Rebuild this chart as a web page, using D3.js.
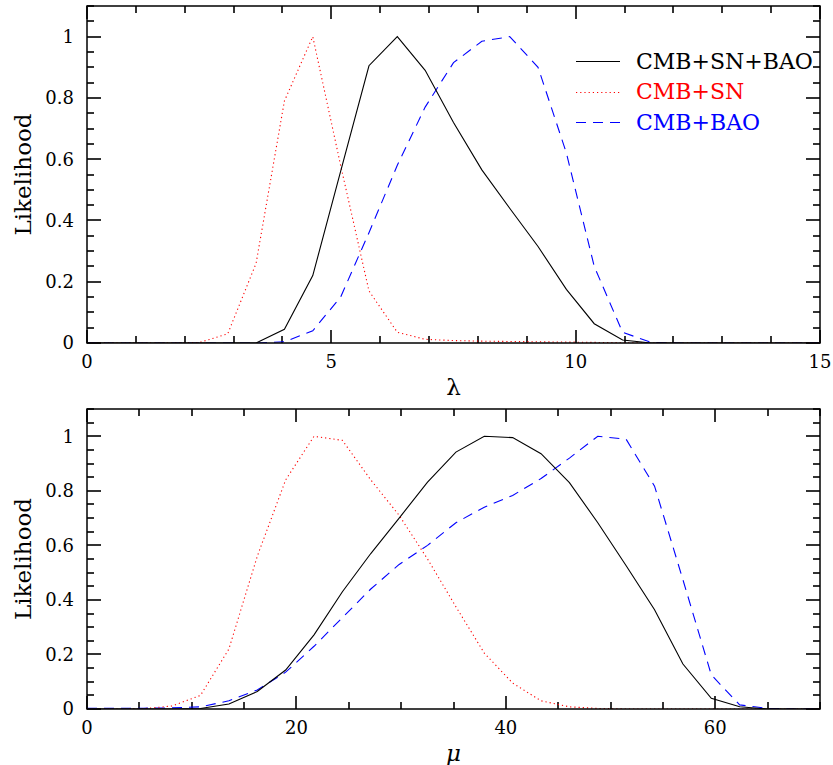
<!DOCTYPE html>
<html>
<head>
<meta charset="utf-8">
<script src="https://cdn.jsdelivr.net/npm/d3@7"></script>
<style>
body { margin: 0; background: #fff; }
svg { display: block; }
.lbl { font-family: "DejaVu Serif", serif; font-size: 18px; fill: #000; }
</style>
</head>
<body>
<script>
// likelihood curves
var seriesNames = ["CMB+SN+BAO", "CMB+SN", "CMB+BAO"];
var seriesColors = ["#000000", "#ff0000", "#0000ff"];
var seriesDash = [null, "1.2,3", "10,7"];

var lambdaX = [0, 0.58, 1.15, 1.73, 2.31, 2.88, 3.46, 4.04, 4.62, 5.19, 5.77, 6.35, 6.92, 7.5,
  8.08, 8.65, 9.23, 9.81, 10.38, 10.96, 11.54, 12.12, 12.69, 13.27, 13.85, 14.42, 15];
var lambdaJoint = [0, 0, 0, 0, 0, 0, 0, 0.045, 0.22, 0.56, 0.905, 1.0, 0.89, 0.72,
  0.565, 0.44, 0.315, 0.175, 0.063, 0.01, 0, 0, 0, 0, 0, 0, 0];
var lambdaSN = [0, 0, 0, 0, 0.002, 0.03, 0.26, 0.79, 1.0, 0.58, 0.17, 0.035, 0.012, 0.008,
  0.006, 0.005, 0.004, 0.003, 0.002, 0.001, 0, 0, 0, 0, 0, 0, 0];
var lambdaBAO = [0, 0, 0, 0, 0, 0, 0, 0.004, 0.04, 0.15, 0.36, 0.58, 0.77, 0.915,
  0.985, 1.0, 0.9, 0.62, 0.25, 0.035, 0.002, 0, 0, 0, 0, 0, 0];

var muX = [0, 2.71, 5.42, 8.13, 10.84, 13.55, 16.26, 18.97, 21.68, 24.39, 27.1, 29.81, 32.52,
  35.23, 37.94, 40.65, 43.36, 46.07, 48.78, 51.49, 54.2, 56.91, 59.62, 62.33, 65.04, 67.75, 70];
var muJoint = [0, 0, 0, 0, 0.002, 0.018, 0.064, 0.143, 0.272, 0.43, 0.57, 0.70, 0.832,
  0.942, 1.0, 0.995, 0.936, 0.83, 0.683, 0.525, 0.364, 0.165, 0.039, 0.008, 0, 0, 0];
var muSN = [0, 0, 0.001, 0.011, 0.05, 0.22, 0.56, 0.84, 1.0, 0.985, 0.84, 0.71, 0.55,
  0.375, 0.205, 0.095, 0.03, 0.008, 0.002, 0, 0, 0, 0, 0, 0, 0, 0];
var muBAO = [0.003, 0.003, 0.003, 0.004, 0.008, 0.03, 0.07, 0.135, 0.23, 0.335, 0.44, 0.53, 0.60,
  0.683, 0.74, 0.783, 0.845, 0.92, 1.0, 0.989, 0.817, 0.474, 0.125, 0.015, 0.002, 0, 0];

var yTicks = [0, 0.2, 0.4, 0.6, 0.8, 1];
var lambdaTicks = [0, 5, 10, 15];
var muTicks = [0, 20, 40, 60];

var svg = d3.select("body").append("svg")
  .attr("width", 833)
  .attr("height", 765);

function panel(id, y0, y1, xmax, xs, ys, ticks, minorStep, xlab, italic, legend) {
  var left = 87, right = 820;
  var x = d3.scaleLinear().domain([0, xmax]).range([left, right]);
  var y = d3.scaleLinear().domain([0, 1.1]).range([y1, y0]);

  svg.append("clipPath").attr("id", id)
    .append("rect")
    .attr("x", left).attr("y", y0)
    .attr("width", right - left).attr("height", y1 - y0);

  // tick marks on all four sides, pointing inwards (drawn as small filled rects)
  var minorX = d3.range(0, xmax + 0.001, minorStep);
  var minorY = d3.range(0, 23).map(function(i) { return i * 0.05; });
  var tg = svg.append("g").attr("fill", "#333");
  minorX.forEach(function(v) {
    var len = ticks.indexOf(v) >= 0 ? 13 : 7;
    var px = Math.round(x(v)) - 1;
    tg.append("rect").attr("x", px).attr("y", y1 - len).attr("width", 2).attr("height", len);
    tg.append("rect").attr("x", px).attr("y", y0).attr("width", 2).attr("height", len);
  });
  minorY.forEach(function(v) {
    var major = yTicks.some(function(t) { return Math.abs(t - v) < 1e-6; });
    var len = major ? 14 : 7;
    var py = Math.round(y(v)) - 1;
    tg.append("rect").attr("x", left).attr("y", py).attr("width", len).attr("height", 2);
    tg.append("rect").attr("x", right - len).attr("y", py).attr("width", len).attr("height", 2);
  });

  svg.selectAll(null).data(ticks).enter().append("text")
    .attr("class", "lbl")
    .attr("x", function(t) { return x(t); })
    .attr("y", y1 + 19)
    .attr("dy", "0.36em")
    .attr("text-anchor", "middle")
    .text(function(t) { return t; });

  svg.selectAll(null).data(yTicks).enter().append("text")
    .attr("class", "lbl")
    .attr("x", left - 13)
    .attr("y", function(t) { return y(t); })
    .attr("dy", "0.36em")
    .attr("text-anchor", "end")
    .text(function(t) { return t == 0 || t == 1 ? t : t.toFixed(1); });

  var line = d3.line().x(function(p) { return x(p[0]); }).y(function(p) { return y(p[1]); });
  var g = svg.append("g").attr("clip-path", "url(#" + id + ")");
  for (var k = 2; k >= 0; k--) {
    g.append("path")
      .datum(xs.map(function(v, i) { return [v, ys[k][i]]; }))
      .attr("d", line)
      .attr("fill", "none")
      .attr("stroke", seriesColors[k])
      .attr("stroke-width", 1.1)
      .attr("stroke-dasharray", seriesDash[k]);
  }

  svg.append("rect")
    .attr("x", left).attr("y", y0)
    .attr("width", right - left).attr("height", y1 - y0)
    .attr("fill", "none").attr("stroke", "#000").attr("stroke-width", 1.5);

  svg.append("text")
    .attr("transform", "translate(23," + (y0 + y1) / 2 + ") rotate(-90)")
    .attr("text-anchor", "middle").attr("dy", "0.35em")
    .style("font-family", "DejaVu Serif, serif").style("font-size", "23px")
    .text("Likelihood");

  svg.append("text")
    .attr("x", (left + right) / 2).attr("y", y1 + 44)
    .attr("text-anchor", "middle").attr("dy", "0.35em")
    .style("font-family", "DejaVu Serif, serif").style("font-size", "23px")
    .style("font-style", italic ? "italic" : "normal")
    .text(xlab);

  if (legend) {
    seriesNames.forEach(function(name, k) {
      var ly = 61 + k * 30.5;
      svg.append("line")
        .attr("x1", 576).attr("x2", 620).attr("y1", Math.round(ly) + 0.5).attr("y2", Math.round(ly) + 0.5)
        .attr("stroke", seriesColors[k]).attr("stroke-width", 1.1)
        .attr("stroke-dasharray", seriesDash[k]);
      svg.append("text")
        .attr("x", 636).attr("y", ly).attr("dy", "0.35em")
        .style("font-family", "DejaVu Serif, serif").style("font-size", "22px")
        .attr("fill", seriesColors[k])
        .text(name);
    });
  }
}

panel("clipL", 6, 343, 15, lambdaX, [lambdaJoint, lambdaSN, lambdaBAO], lambdaTicks, 1, "λ", false, true);
panel("clipM", 409, 709, 70, muX, [muJoint, muSN, muBAO], muTicks, 5, "μ", true, false);
</script>
</body>
</html>
